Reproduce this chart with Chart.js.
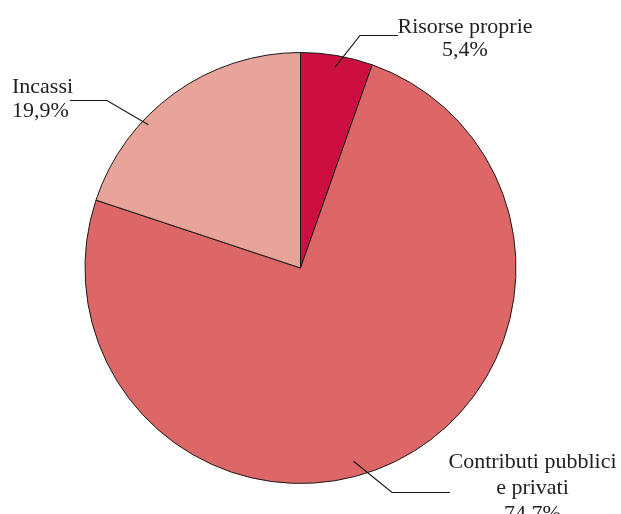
<!DOCTYPE html>
<html>
<head>
<meta charset="utf-8">
<script src="https://cdn.jsdelivr.net/npm/chart.js@4.4.0/dist/chart.umd.min.js"></script>
<style>
  html, body { margin: 0; padding: 0; background: #fff; }
  #box { width: 621px; height: 514px; }
</style>
</head>
<body>
<div id="box"><canvas id="myChart"></canvas></div>
<script>
// dati del grafico
const categorie = [['Risorse proprie'], ['Contributi pubblici', 'e privati'], ['Incassi']];
const valori = [5.4, 74.7, 19.9];
const colori = ['#cc0e40', '#dd6667', '#e8a39b'];

// posizione delle etichette (pixel relativi al centro della torta)
const etichette = [
    { frac: 0.5, k: 0.944, gomito: [59.5, -232.5], fine: [97.5, -232.5], testo: [164.5, -235.5], align: 'center', lh: 23 },
    { frac: 0.54, k: 0.93, gomito: [91.5, 224.5], fine: [149.5, 224.5], testo: [232, 199.5], align: 'center', lh: 26 },
    { frac: 0.348, k: 0.97, gomito: [-193.5, -167.5], fine: [-230.5, -167.5], testo: [-288.5, -175.5], align: 'left', lh: 24 }
];

const pct = v => v.toFixed(1).replace('.', ',') + '%';

// plugin per linee guida e testi
const etichettePlugin = {
    id: 'etichette',
    afterDatasetsDraw(chart) {
        const ctx = chart.ctx;
        const arcs = chart.getDatasetMeta(0).data;
        ctx.save();
        ctx.strokeStyle = '#1a1a1a';
        ctx.lineWidth = 1.2;
        ctx.fillStyle = '#222';
        ctx.font = '22px "Liberation Serif", "DejaVu Serif", serif';
        ctx.textBaseline = 'alphabetic';
        arcs.forEach((arc, i) => {
            const e = etichette[i];
            const cx = arc.x, cy = arc.y;
            const a = arc.startAngle + e.frac * (arc.endAngle - arc.startAngle);
            const r = arc.outerRadius * e.k;
            ctx.beginPath();
            ctx.moveTo(cx + Math.cos(a) * r, cy + Math.sin(a) * r);
            ctx.lineTo(cx + e.gomito[0], cy + e.gomito[1]);
            ctx.lineTo(cx + e.fine[0], cy + e.fine[1]);
            ctx.stroke();
            const righe = categorie[i].concat([pct(valori[i])]);
            ctx.textAlign = e.align;
            righe.forEach((t, j) => {
                ctx.fillText(t, cx + e.testo[0], cy + e.testo[1] + j * e.lh);
            });
        });
        ctx.restore();
    }
};

const ctx = document.getElementById('myChart');
const myChart = new Chart(ctx, {
    type: 'pie',
    data: {
        labels: categorie.map(c => c.join(' ')),
        datasets: [{
            data: valori,
            backgroundColor: colori,
            borderColor: '#1a1a1a',
            borderWidth: 1
        }]
    },
    options: {
        responsive: true,
        maintainAspectRatio: false,
        animation: false,
        layout: { padding: { top: 52, bottom: 30, left: 0, right: 20 } },
        plugins: {
            legend: { display: false },
            tooltip: { enabled: false }
        }
    },
    plugins: [etichettePlugin]
});
</script>
</body>
</html>
